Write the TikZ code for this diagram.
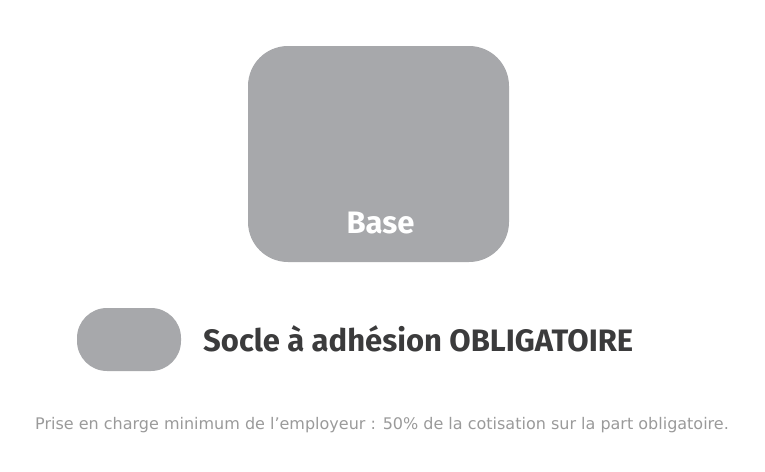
\documentclass[tikz,border=0pt]{standalone}
\usepackage{fontspec}
\setmainfont{Fira Sans}
\newfontfamily\notefont{DejaVu Sans}
\definecolor{boxgrey}{HTML}{A7A8AB}
\definecolor{darktext}{HTML}{3B3B3C}
\definecolor{notegrey}{HTML}{9A9A9A}
\begin{document}
\begin{tikzpicture}[x=1pt,y=-1pt,
  labeltext/.style={font=\fontsize{31}{34}\selectfont\bfseries,text=darktext,anchor=base west,inner sep=0pt},
]
\useasboundingbox (0,0) rectangle (765,471);
\fill[boxgrey,rounded corners=40pt] (248,46) rectangle (509,262);
\node[font=\fontsize{31}{34}\selectfont\bfseries,text=white,inner sep=0pt,anchor=base] (base) at (380.5,233) {Base};
\fill[boxgrey,rounded corners=30pt] (77,308) rectangle (181,371);
\coordinate (pill) at (129,339.5);
\node[labeltext] (legend) at (203,351) {Socle à adhésion OBLIGATOIRE};
\node[font=\notefont\fontsize{16}{19}\selectfont,text=notegrey,inner sep=0pt,anchor=base] (note) at (382,429) {Prise en charge minimum de l’employeur : 50\% de la cotisation sur la part obligatoire.};
\end{tikzpicture}
\end{document}
